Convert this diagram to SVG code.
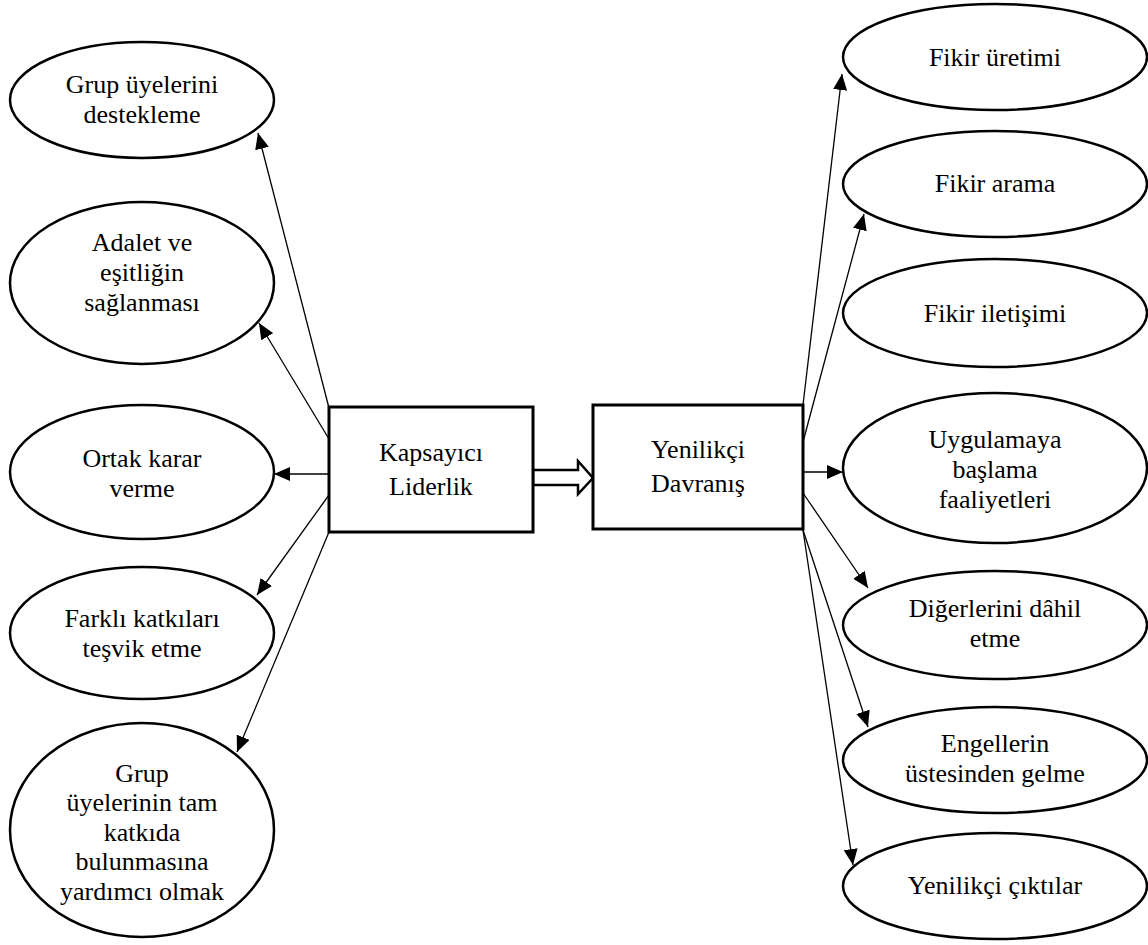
<svg xmlns="http://www.w3.org/2000/svg" width="1148" height="945" viewBox="0 0 1148 945">
<style>
.n{fill:#fff;stroke:#000;stroke-width:2.5}
.b{fill:#fff;stroke:#000;stroke-width:3}
.t{font-size:26px;fill:#000;text-anchor:middle}
.c{stroke:#000;stroke-width:1.3;fill:none;marker-end:url(#ah)}
</style>
<defs>
<marker id="ah" markerUnits="userSpaceOnUse" markerWidth="17" markerHeight="14" refX="16" refY="7" orient="auto">
<path d="M0,0 L16,7 L0,14 z" fill="#000"/>
</marker>
</defs>
<rect width="1148" height="945" fill="#fff"/>
<g id="connectors">
<line class="c" x1="329" y1="408" x2="258" y2="133"/>
<line class="c" x1="329" y1="439" x2="259" y2="323"/>
<line class="c" x1="329" y1="474" x2="274" y2="474"/>
<line class="c" x1="329" y1="495" x2="257" y2="595"/>
<line class="c" x1="329" y1="532" x2="237" y2="752"/>
<line class="c" x1="803" y1="405" x2="842" y2="74"/>
<line class="c" x1="803" y1="442" x2="864" y2="214"/>
<line class="c" x1="803" y1="472" x2="843" y2="472"/>
<line class="c" x1="803" y1="493" x2="868" y2="588"/>
<line class="c" x1="803" y1="530" x2="868" y2="727"/>
<line class="c" x1="803" y1="530" x2="853" y2="865"/>
<polygon points="533,470 578,470 578,461 593,478 578,494 578,485 533,485" fill="#fff" stroke="#000" stroke-width="2.5"/>
</g>
<g font-family="'Liberation Serif', 'DejaVu Serif', serif">
<g id="kapsayici">
<rect class="b" x="329" y="407" width="204" height="125"/>
<text class="t" x="431" y="461">Kapsayıcı</text>
<text class="t" x="431" y="495">Liderlik</text>
</g>
<g id="yenilikci">
<rect class="b" x="593" y="405" width="210" height="124"/>
<text class="t" x="698" y="458">Yenilikçi</text>
<text class="t" x="698" y="492">Davranış</text>
</g>
<g id="l1">
<ellipse class="n" cx="142" cy="100" rx="132" ry="58"/>
<text class="t" x="142" y="93">Grup üyelerini</text>
<text class="t" x="142" y="123">destekleme</text>
</g>
<g id="l2">
<ellipse class="n" cx="142" cy="283" rx="132" ry="81"/>
<text class="t" x="142" y="251">Adalet ve</text>
<text class="t" x="142" y="281">eşitliğin</text>
<text class="t" x="142" y="311">sağlanması</text>
</g>
<g id="l3">
<ellipse class="n" cx="142" cy="472" rx="132" ry="67"/>
<text class="t" x="142" y="467">Ortak karar</text>
<text class="t" x="142" y="497">verme</text>
</g>
<g id="l4">
<ellipse class="n" cx="142" cy="633" rx="132" ry="66"/>
<text class="t" x="142" y="627">Farklı katkıları</text>
<text class="t" x="142" y="657">teşvik etme</text>
</g>
<g id="l5">
<ellipse class="n" cx="142" cy="830" rx="132" ry="107"/>
<text class="t" x="142" y="782">Grup</text>
<text class="t" x="142" y="811">üyelerinin tam</text>
<text class="t" x="142" y="841">katkıda</text>
<text class="t" x="142" y="870">bulunmasına</text>
<text class="t" x="142" y="900">yardımcı olmak</text>
</g>
<g id="r1">
<ellipse class="n" cx="995" cy="57" rx="152" ry="53"/>
<text class="t" x="995" y="66">Fikir üretimi</text>
</g>
<g id="r2">
<ellipse class="n" cx="995" cy="184" rx="152" ry="53"/>
<text class="t" x="995" y="192">Fikir arama</text>
</g>
<g id="r3">
<ellipse class="n" cx="995" cy="313" rx="152" ry="54"/>
<text class="t" x="995" y="322">Fikir iletişimi</text>
</g>
<g id="r4">
<ellipse class="n" cx="995" cy="468" rx="152" ry="75"/>
<text class="t" x="995" y="448">Uygulamaya</text>
<text class="t" x="995" y="478">başlama</text>
<text class="t" x="995" y="508">faaliyetleri</text>
</g>
<g id="r5">
<ellipse class="n" cx="995" cy="625" rx="152" ry="54"/>
<text class="t" x="995" y="617">Diğerlerini dâhil</text>
<text class="t" x="995" y="647">etme</text>
</g>
<g id="r6">
<ellipse class="n" cx="995" cy="760" rx="152" ry="53"/>
<text class="t" x="995" y="752">Engellerin</text>
<text class="t" x="995" y="782">üstesinden gelme</text>
</g>
<g id="r7">
<ellipse class="n" cx="995" cy="886" rx="152" ry="53"/>
<text class="t" x="995" y="894">Yenilikçi çıktılar</text>
</g>
</g>
</svg>
